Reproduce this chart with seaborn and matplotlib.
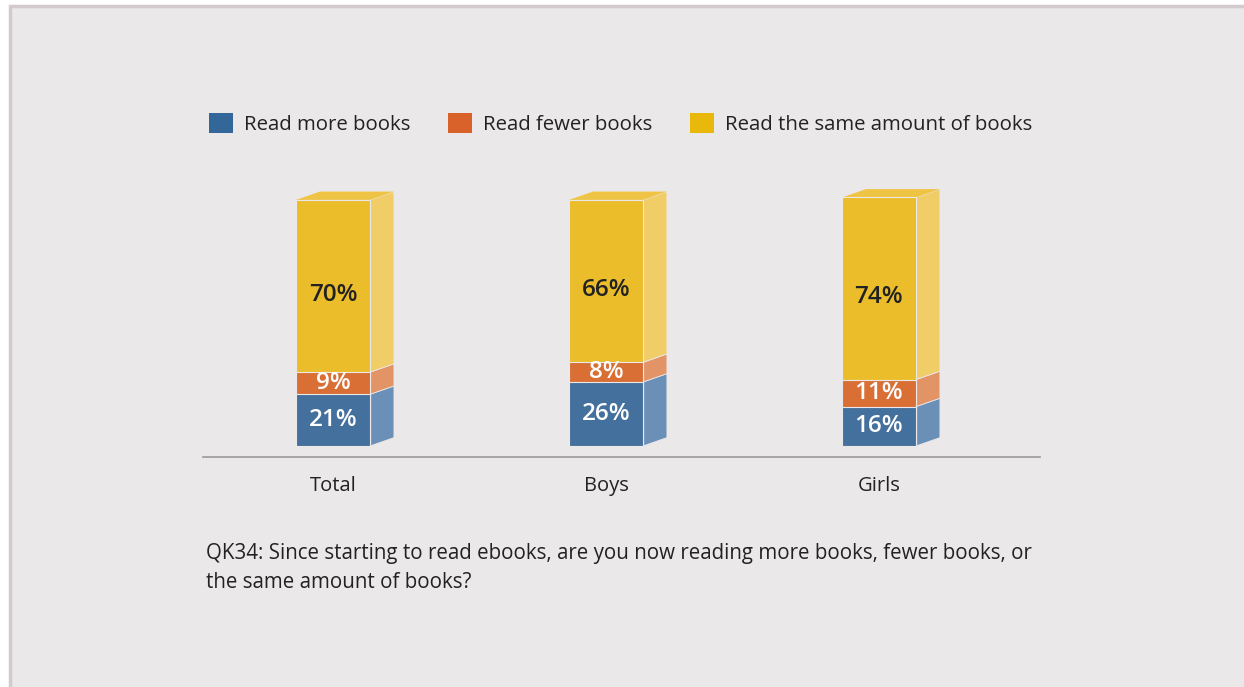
import matplotlib
matplotlib.use("Agg")
from matplotlib import pyplot as plt
from matplotlib.patches import Polygon, Patch, Rectangle
import pandas as pd
import seaborn as sns

# data
groups = ['Total', 'Boys', 'Girls']
series = ['Read more books', 'Read fewer books', 'Read the same amount of books']
more = [21, 26, 16]
fewer = [9, 8, 11]
same = [70, 66, 74]

# colours: front / side / top face
front = ['#44709d', '#d96f35', '#ebbd2b']
side = ['#6a90b8', '#e39466', '#f1cd68']
top = ['#5a83ad', '#e08a58', '#efc444']
legend_cols = ['#336799', '#d9622b', '#e8b90b']
bg = '#ebe8e9'

sns.set_style("white")
plt.rcParams['font.family'] = ['Open Sans', 'DejaVu Sans']

fig = plt.figure(figsize=(12.44, 6.87), dpi=100)
fig.patch.set_facecolor('white')
fig.patches.append(Rectangle((10 / 1244, -0.01), 1.02, 1 - 6 / 687 + 0.01,
                             transform=fig.transFigure, facecolor=bg,
                             edgecolor='#d2cacd', linewidth=2.5, zorder=-5))

ax = fig.add_axes([203 / 1244, (687 - 457) / 687, (1040 - 203) / 1244, (457 - 180) / 687])
ax.set_facecolor('none')

values = [more, fewer, same]
bottoms = [[0] * 3, more, [m + f for m, f in zip(more, fewer)]]
tops = [more, bottoms[2], [b + s for b, s in zip(bottoms[2], same)]]

# stacked fronts, drawn from tallest cumulative down
width = 0.271
for i in [2, 1, 0]:
    df = pd.DataFrame({'group': groups, 'val': tops[i]})
    sns.barplot(data=df, x='group', y='val', color=front[i], width=width,
                saturation=1, edgecolor=bg, linewidth=0.8, ax=ax, zorder=2)

ax.set_xlim(-0.476, 2.59)
ax.set_ylim(-4.47, 108.1)

# 3D side/top faces from bar geometry
dx, dy = 0.088, 3.4
bars = ax.patches[-3:]  # bottom segment bars give x positions
for j, bar in enumerate(bars):
    x0 = bar.get_x()
    x1 = x0 + bar.get_width()
    for i in range(3):
        b, t = bottoms[i][j], tops[i][j]
        ax.add_patch(Polygon([(x1, b), (x1 + dx, b + dy), (x1 + dx, t + dy), (x1, t)],
                             closed=True, facecolor=side[i], edgecolor=bg,
                             linewidth=0.6, zorder=1.5))
        if i == 2:
            ax.add_patch(Polygon([(x0, t), (x1, t), (x1 + dx, t + dy), (x0 + dx, t + dy)],
                                 closed=True, facecolor=top[i], edgecolor='none',
                                 zorder=1.5))
        mid = (b + t) / 2 - (3.5 if i == 2 else 0)
        ax.text(x0 + bar.get_width() / 2, mid, f'{values[i][j]}%',
                ha='center', va='center', fontsize=17.5, fontweight='semibold',
                color='#222222' if i == 2 else 'white', zorder=3)

sns.despine(ax=ax, left=True, top=True, right=True)
ax.spines['bottom'].set_color('#9a9a9a')
ax.spines['bottom'].set_linewidth(1.2)
ax.set_yticks([])
ax.set_xlabel('')
ax.set_ylabel('')
ax.tick_params(axis='x', length=0, pad=14, labelsize=14.5, labelcolor='#222222')

handles = [Patch(facecolor=c, edgecolor='none') for c in legend_cols]
fig.legend(handles, series, loc='center', bbox_to_anchor=(0.499, 0.82), ncol=3,
           frameon=False, fontsize=14.7, handlelength=1.15, handleheight=1.15,
           handletextpad=0.55, columnspacing=1.85, labelcolor='#222222')

fig.text(206 / 1244, 1 - 543 / 687,
         'QK34: Since starting to read ebooks, are you now reading more books, fewer books, or\n'
         'the same amount of books?',
         ha='left', va='top', fontsize=14.8, color='#222222', linespacing=1.5)

fig.savefig('out.png', dpi=100, facecolor=fig.get_facecolor())
